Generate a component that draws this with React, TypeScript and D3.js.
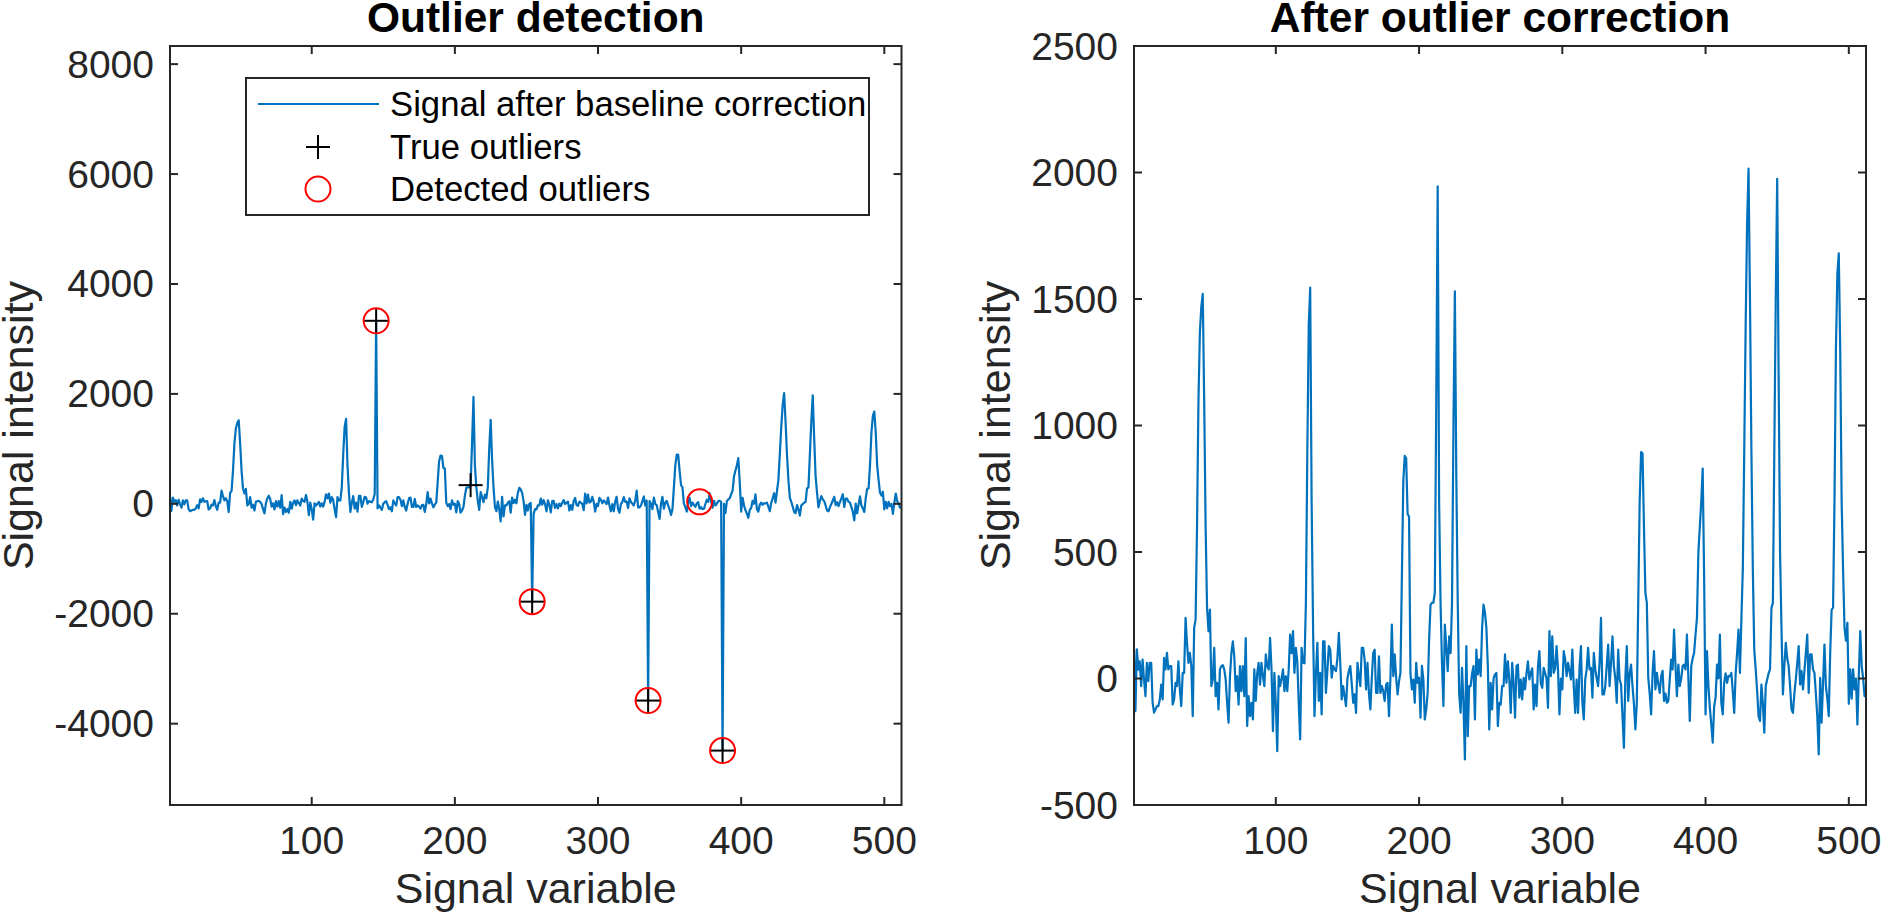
import React from 'react';
import * as d3 from 'd3';

// corrected signal (right panel), one value per signal variable 1..512
const correctedSignal: number[] = [
  121, -129, 115, 35, 68, -30, 75, -4, -70, 62,
  -10, 62, 62, -96, -135, -122, -109, -109, -83, -24,
  -83, 82, 36, 101, 36, 49, 49, -103, -83, -17,
  -30, 68, -43, -109, 22, 22, 240, 141, 62, 101,
  49, -149, 200, 233, 600, 1100, 1370, 1470, 1520, 1100,
  600, 280, 187, 272, -30, -4, 121, -70, -17, -122,
  36, 49, 53, 36, -4, -96, -175, 9, 101, 147,
  88, -50, 9, -103, 49, -50, 49, -70, 160, -188,
  -70, -149, -96, -162, 36, -89, 20, 62, -24, 62,
  10, -30, 95, 50, 36, 161, 36, -208, 22, -100,
  -287, 9, -30, 0, 36, -50, 9, -50, 36, 174,
  100, 187, 22, 121, 68, -100, -241, 121, 62, 60,
  300, 900, 1400, 1545, 700, 200, -149, 20, 141, -89,
  22, -142, 147, 147, -57, 30, 128, 114, 3, 50,
  36, 29, 80, 180, 60, -83, -30, -70, -109, 0,
  30, 49, -20, -96, -63, -136, 62, 10, -30, 121,
  121, 75, -43, 62, -57, -122, 0, 101, 114, -57,
  -57, 88, -57, -30, -50, -89, -24, -17, -149, 0,
  213, 9, 95, 3, -63, -11, 22, 400, 780, 880,
  870, 650, 640, 20, -43, -4, -96, 62, -17, 3,
  -155, 50, -4, -162, -122, -57, 150, 292, 299, 300,
  340, 1100, 1945, 700, 300, 60, -109, 213, 128, 29,
  167, 100, 300, 1000, 1530, 800, 300, -60, -135, 42,
  -100, -320, 128, -228, -30, -30, 20, 49, -162, 114,
  16, 75, 9, 200, 292, 260, 200, 50, -201, -17,
  -122, 0, 16, 22, -188, -96, -103, -30, -30, 95,
  -17, 68, -4, -136, 62, -17, -155, 49, 55, -76,
  -4, -83, 3, -43, 20, 68, -4, 22, 40, -122,
  -24, -109, 50, 108, -20, -37, 42, 22, 0, -116,
  187, 9, 167, 22, 40, 128, 36, -142, 0, -43,
  108, 75, 9, 62, 30, -4, 114, -30, -136, -4,
  -136, 40, 128, -96, -162, -4, 36, 121, 36, 42,
  -76, 101, 36, 0, -30, 60, 240, -63, -63, -30,
  50, 134, -30, 60, 167, 49, 0, -96, 114, -4,
  -24, -149, -274, 0, 128, -89, 20, 55, -30, -100,
  -201, -100, 300, 700, 895, 890, 600, 338, 299, 3,
  -60, -142, 20, 108, -43, 22, -20, -57, 9, 30,
  -89, -60, -96, -89, -4, 75, 36, 193, 50, -70,
  55, -30, 0, 49, 55, 36, 174, 0, -168, 49,
  80, 101, 174, 240, 500, 600, 700, 830, 400, -142,
  108, -30, -116, -180, -254, -109, -76, 55, 0, 174,
  -96, -142, -17, 20, -17, 10, 9, 22, -50, -136,
  20, 100, 193, 22, 233, 430, 900, 1400, 1800, 2015,
  1500, 900, 430, 114, 36, -50, -149, -168, -24, -100,
  -214, -30, -4, 20, 36, 279, 299, 900, 1500, 1975,
  1200, 500, 200, -63, 50, 141, 80, 49, -30, -122,
  -136, -60, -4, 60, 128, -24, 29, -43, 29, 100,
  174, -57, 95, 95, 36, 22, -60, -149, -300, 3,
  -175, -20, 134, -30, -80, -149, 100, 272, 279, 700,
  1300, 1600, 1680, 1300, 700, 430, 200, 150, 220, -100,
  36, -80, 36, -43, 0, -182, 20, 187, 49, 0,
  -70, -70,
];

const trueOutlierIdx = [145, 211, 254, 335, 387];
const trueOutlierVal = [3330, 340, -1780, -3580, -4490];
const detectedIdx = [145, 254, 335, 371, 387];
const detectedVal = [3330, -1780, -3580, 36, -4490];

const xTicks = [100, 200, 300, 400, 500];
const leftYTicks = [-4000, -2000, 0, 2000, 4000, 6000, 8000];
const rightYTicks = [-500, 0, 500, 1000, 1500, 2000, 2500];
const legendLabels = ['Signal after baseline correction', 'True outliers', 'Detected outliers'];

// signal before outlier correction: corrected signal with outliers put back
const rawSignal = correctedSignal.map((v, i) => {
  const k = trueOutlierIdx.indexOf(i + 1);
  return k >= 0 ? trueOutlierVal[k] : v;
});

const FONT = '"Liberation Sans", Arial, Helvetica, sans-serif';
const AX = '#262626';
const BLUE = '#0072BD';

type Pt = { x: number; y: number };

const Plus: React.FC<{ cx: number; cy: number }> = ({ cx, cy }) => (
  <g stroke="#000" strokeWidth={2}>
    <line x1={cx - 12} x2={cx + 12} y1={cy} y2={cy} />
    <line x1={cx} x2={cx} y1={cy - 12} y2={cy + 12} />
  </g>
);

interface PanelProps {
  left: number;
  right: number;
  top: number;
  bottom: number;
  yDomain: [number, number];
  yTicks: number[];
  title: string;
  signal: number[];
  yLabelX: number;
  outliers?: boolean;
}

const Panel: React.FC<PanelProps> = ({ left, right, top, bottom, yDomain, yTicks, title, signal, yLabelX, outliers }) => {
  const x = d3.scaleLinear().domain([1, 512]).range([left, right]);
  const y = d3.scaleLinear().domain(yDomain).range([bottom, top]);
  const pts: Pt[] = signal.map((v, i) => ({ x: i + 1, y: v }));
  const line = d3.line<Pt>().x((d) => x(d.x)).y((d) => y(d.y));
  const tl = 8;
  const clipId = `clip-${left}`;
  const cx = (left + right) / 2;
  return (
    <g fontFamily={FONT}>
      <defs>
        <clipPath id={clipId}>
          <rect x={left} y={top} width={right - left} height={bottom - top} />
        </clipPath>
      </defs>
      <path d={line(pts) || ''} fill="none" stroke={BLUE} strokeWidth={2.2} strokeLinejoin="round" clipPath={`url(#${clipId})`} />
      {outliers &&
        trueOutlierIdx.map((t, i) => <Plus key={`p${i}`} cx={x(t)} cy={y(trueOutlierVal[i])} />)}
      {outliers &&
        detectedIdx.map((t, i) => (
          <circle key={`c${i}`} cx={x(t)} cy={y(detectedVal[i])} r={12.5} fill="none" stroke="#FF0000" strokeWidth={2} />
        ))}
      <g stroke={AX} strokeWidth={2}>
        {xTicks.map((t) => (
          <g key={`xt${t}`}>
            <line x1={x(t)} x2={x(t)} y1={bottom} y2={bottom - tl} />
            <line x1={x(t)} x2={x(t)} y1={top} y2={top + tl} />
          </g>
        ))}
        {yTicks.map((t) => (
          <g key={`yt${t}`}>
            <line x1={left} x2={left + tl} y1={y(t)} y2={y(t)} />
            <line x1={right} x2={right - tl} y1={y(t)} y2={y(t)} />
          </g>
        ))}
        <rect x={left} y={top} width={right - left} height={bottom - top} fill="none" />
      </g>
      <g fill={AX} fontSize={39}>
        {xTicks.map((t) => (
          <text key={`xl${t}`} x={x(t)} y={bottom + 49} textAnchor="middle">
            {t}
          </text>
        ))}
        {yTicks.map((t) => (
          <text key={`yl${t}`} x={left - 16} y={y(t)} textAnchor="end" dominantBaseline="central">
            {t}
          </text>
        ))}
      </g>
      <text x={cx} y={903} textAnchor="middle" fontSize={43} fill={AX}>
        Signal variable
      </text>
      <text
        transform={`translate(${yLabelX},${(top + bottom) / 2}) rotate(-90)`}
        textAnchor="middle"
        fontSize={43}
        fill={AX}
      >
        Signal intensity
      </text>
      <text x={cx} y={32} textAnchor="middle" fontSize={42.5} fontWeight="bold" fill="#000">
        {title}
      </text>
    </g>
  );
};

const Legend: React.FC = () => {
  const rows = [104, 147, 189];
  return (
    <g fontFamily={FONT}>
      <rect x={246} y={78} width={623} height={137} fill="#fff" stroke={AX} strokeWidth={2} />
      <line x1={258} x2={379} y1={rows[0]} y2={rows[0]} stroke={BLUE} strokeWidth={2.2} />
      <Plus cx={318} cy={rows[1]} />
      <circle cx={318} cy={rows[2]} r={12.5} fill="none" stroke="#FF0000" strokeWidth={2} />
      {legendLabels.map((l, i) => (
        <text key={l} x={390} y={rows[i]} dominantBaseline="central" fontSize={34.7} fill="#000">
          {l}
        </text>
      ))}
    </g>
  );
};

const App: React.FC = () => (
  <svg
    width={1881}
    height={916}
    style={{ position: 'absolute', left: 0, top: 0, background: '#fff' }}
  >
    <rect width={1881} height={916} fill="#fff" />
    <Panel
      left={170}
      right={901.5}
      top={46}
      bottom={805}
      yDomain={[-5480, 8330]}
      yTicks={leftYTicks}
      title="Outlier detection"
      signal={rawSignal}
      yLabelX={33}
      outliers
    />
    <Legend />
    <Panel
      left={1134}
      right={1866}
      top={46}
      bottom={805}
      yDomain={[-500, 2500]}
      yTicks={rightYTicks}
      title="After outlier correction"
      signal={correctedSignal}
      yLabelX={1010}
    />
  </svg>
);

export default App;
